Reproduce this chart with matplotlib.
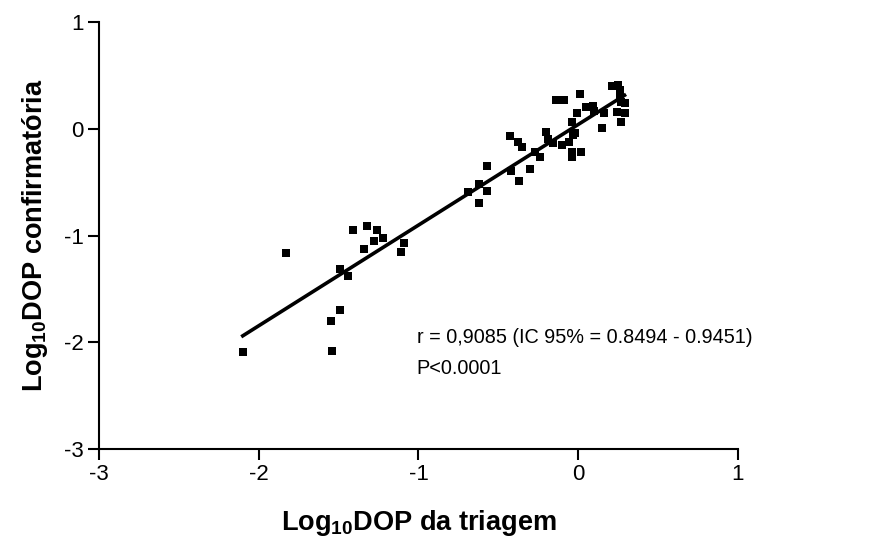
import matplotlib
matplotlib.use("Agg")
import matplotlib.pyplot as plt
import numpy as np

plt.rcParams['font.family'] = ['Liberation Sans', 'DejaVu Sans']
plt.rcParams['mathtext.fontset'] = 'custom'
plt.rcParams['mathtext.rm'] = 'Liberation Sans'
plt.rcParams['mathtext.bf'] = 'Liberation Sans:bold'
plt.rcParams['axes.unicode_minus'] = False

# Log10 DOP values
triagem = [-2.10, -1.83, -1.41, -1.32, -1.26, -1.28, -1.22, -1.34, -1.09, -1.11,
           -1.49, -1.44, -1.49, -1.55, -1.54,
           -0.62, -0.69, -0.62, -0.57, -0.57, -0.43, -0.38, -0.35, -0.42, -0.37,
           -0.30, -0.27, -0.24, -0.20, -0.19, -0.16, -0.10, -0.06,
           -0.14, -0.09, 0.01, -0.04, -0.01, -0.02, -0.03, -0.04, -0.04, 0.02,
           0.05, 0.09, 0.10, 0.15, 0.16, 0.21, 0.25, 0.26, 0.26, 0.27, 0.29,
           0.24, 0.29, 0.27]
confirmatoria = [-2.09, -1.16, -0.95, -0.91, -0.95, -1.05, -1.02, -1.13, -1.07, -1.15,
                 -1.31, -1.38, -1.70, -1.80, -2.08,
                 -0.70, -0.59, -0.52, -0.58, -0.35, -0.07, -0.12, -0.17, -0.40, -0.49,
                 -0.38, -0.22, -0.26, -0.03, -0.10, -0.13, -0.15, -0.12,
                 0.27, 0.27, 0.33, 0.06, 0.15, -0.04, -0.06, -0.22, -0.26, -0.22,
                 0.20, 0.21, 0.17, 0.01, 0.15, 0.40, 0.41, 0.36, 0.32, 0.25, 0.24,
                 0.16, 0.15, 0.06]

x = np.array(triagem)
y = np.array(confirmatoria)
slope, intercept = np.polyfit(x, y, 1)

fig = plt.figure(figsize=(8.88, 5.49), dpi=100)
ax = fig.add_axes([0.1115, 0.182, 0.7195, 0.778])

ax.scatter(x, y, marker='s', s=26, color='black', linewidths=0, zorder=3)
xl = np.array([x.min(), x.max()])
ax.plot(xl, slope * xl + intercept, color='black', lw=2.6, zorder=2)

ax.set_xlim(-3, 1)
ax.set_ylim(-3, 1)
ax.set_xticks([-3, -2, -1, 0, 1])
ax.set_yticks([-3, -2, -1, 0, 1])
for s in ['top', 'right']:
    ax.spines[s].set_visible(False)
for s in ['left', 'bottom']:
    ax.spines[s].set_linewidth(1.5)
ax.tick_params(direction='out', length=8, width=1.5, labelsize=16, pad=3)

ax.set_xlabel(r'Log$_{\mathbf{10}}$DOP da triagem', fontsize=19.5, fontweight='bold', labelpad=16)
ax.set_ylabel(r'Log$_{\mathbf{10}}$DOP confirmatória', fontsize=19.5, fontweight='bold', labelpad=10)

ax.text(-1.01, -2.10, 'r = 0,9085 (IC 95% = 0.8494 - 0.9451)\nP<0.0001', fontsize=14.3,
        va='center', ha='left', linespacing=1.8)

fig.savefig('out.png', dpi=100)
